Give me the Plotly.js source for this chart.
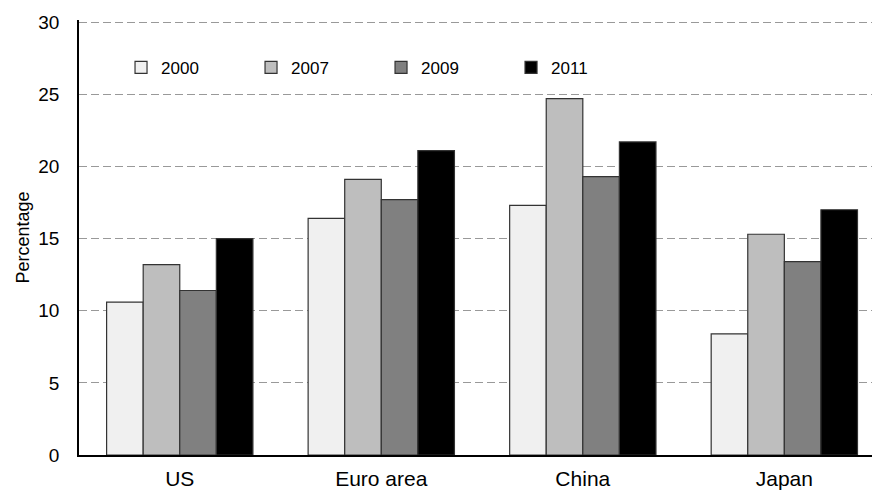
<!DOCTYPE html>
<html>
<head>
<meta charset="utf-8">
<script src="https://cdn.plot.ly/plotly-3.0.1.min.js"></script>
<style>html,body{margin:0;padding:0;background:#fff;overflow:hidden;}#chart{width:872px;height:492px;}</style>
</head>
<body>
<div id="chart"></div>
<script>
const categories = ["US", "Euro area", "China", "Japan"];
const years = ["2000", "2007", "2009", "2011"];
const v2000 = [10.6, 16.4, 17.3, 8.4];
const v2007 = [13.2, 19.1, 24.7, 15.3];
const v2009 = [11.4, 17.7, 19.3, 13.4];
const v2011 = [15.0, 21.1, 21.7, 17.0];
const colors = ["#f0f0f0", "#bebebe", "#808080", "#000000"];

const series = [v2000, v2007, v2009, v2011];
const traces = series.map((vals, i) => ({
  type: "bar",
  name: years[i],
  x: categories,
  y: vals,
  marker: {color: colors[i], line: {color: "#333333", width: 1.2}},
  hoverinfo: "skip"
}));

const layout = {
  width: 872, height: 492,
  margin: {l: 79, r: 0, t: 20, b: 37},
  paper_bgcolor: "#fff", plot_bgcolor: "#fff",
  font: {family: "Liberation Sans, Arial, sans-serif", color: "#000"},
  barmode: "group",
  bargap: 0.274,
  bargroupgap: 0,
  xaxis: {
    type: "category",
    range: [-0.5, 3.435],
    showline: true, linecolor: "#000", linewidth: 1.8,
    ticks: "", tickfont: {size: 21},
    ticklabelstandoff: 4,
    showgrid: false, zeroline: false
  },
  yaxis: {
    range: [0, 30.15], tickvals: [0, 5, 10, 15, 20, 25, 30],
    showline: true, linecolor: "#000", linewidth: 1.8,
    ticks: "", tickfont: {size: 19},
    ticklabelstandoff: 14,
    showgrid: true, gridcolor: "#999", griddash: "8px,4px", gridwidth: 1.2,
    zeroline: false,
    title: {text: "Percentage", font: {size: 18}, standoff: 4}
  },
  legend: {
    orientation: "h",
    x: 0.053, xanchor: "left",
    y: 0.89, yanchor: "middle",
    font: {size: 17},
    bgcolor: "rgba(0,0,0,0)",
    entrywidth: 85, entrywidthmode: "pixels",
    itemwidth: 30
  },
  showlegend: true
};

Plotly.newPlot("chart", traces, layout, {displayModeBar: false, staticPlot: true});
</script>
</body>
</html>
